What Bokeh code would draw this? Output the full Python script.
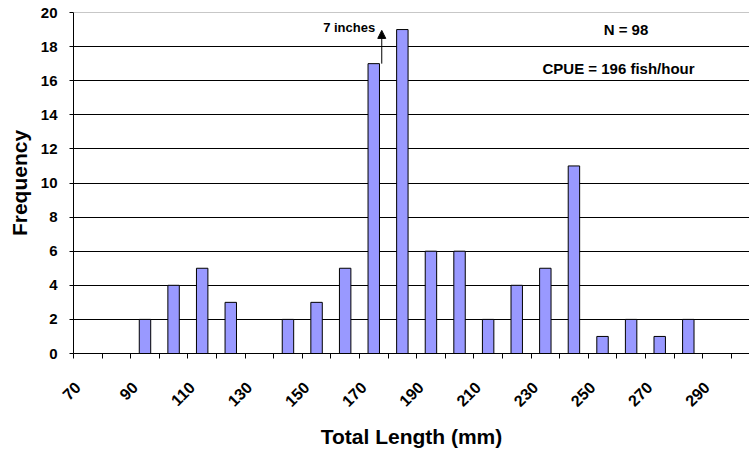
import math
from bokeh.plotting import figure
from bokeh.models import FixedTicker, Range1d, Span, Arrow, NormalHead, Label, ColumnDataSource
from bokeh.embed import file_html
from bokeh.resources import INLINE

# ---- data ----
lengths = [70, 80, 90, 100, 110, 120, 130, 140, 150, 160, 170, 180,
           190, 200, 210, 220, 230, 240, 250, 260, 270, 280, 290, 300]
counts = [0, 0, 2, 4, 5, 3, 0, 2, 3, 5, 17, 19,
          6, 6, 2, 4, 5, 11, 1, 2, 1, 2, 0, 0]
tick_labels = [70, 90, 110, 130, 150, 170, 190, 210, 230, 250, 270, 290]
y_ticks = [0, 2, 4, 6, 8, 10, 12, 14, 16, 18, 20]
seven_inches_mm = 177.8
n_text = "N = 98"
cpue_text = "CPUE = 196 fish/hour"

FONT = "Liberation Sans"
BIN = 10
LABEL_NUDGE = 1.4   # rotated labels end just left of the bin centre

xs = [l + BIN / 2 for l, c in zip(lengths, counts) if c > 0]
tops = [c for c in counts if c > 0]
src = ColumnDataSource(dict(x=xs, top=tops))

p = figure(width=749, height=452, output_backend="svg", toolbar_location=None,
           x_range=Range1d(70, 306.4), y_range=Range1d(0, 20),
           min_border_left=73, min_border_right=0, min_border_top=12,
           min_border_bottom=99)
p.outline_line_color = None
p.background_fill_color = "white"

p.vbar(x="x", top="top", width=BIN * 0.4, source=src,
       fill_color="#9999FF", line_color="black", line_width=1)

# x axis
xa = p.xaxis[0]
label_pos = [t + LABEL_NUDGE for t in tick_labels]
xa.ticker = FixedTicker(ticks=label_pos, minor_ticks=lengths)
xa.major_label_overrides = {pos: str(t) for pos, t in zip(label_pos, tick_labels)}
xa.major_tick_out = 0
xa.major_tick_in = 0
xa.minor_tick_out = 5
xa.minor_tick_in = 0
xa.minor_tick_line_color = "black"
xa.axis_line_color = "black"
xa.major_label_orientation = math.pi / 4
xa.major_label_standoff = 26
xa.major_label_text_font = FONT
xa.major_label_text_font_style = "bold"
xa.major_label_text_font_size = "16px"
xa.major_label_text_color = "black"
xa.axis_label = "Total Length (mm)"
xa.axis_label_text_font = FONT
xa.axis_label_text_font_style = "bold"
xa.axis_label_text_font_size = "21px"
xa.axis_label_text_color = "black"
xa.axis_label_standoff = 10

# y axis
ya = p.yaxis[0]
ya.ticker = FixedTicker(ticks=y_ticks, minor_ticks=[])
ya.major_tick_out = 4
ya.major_tick_in = 0
ya.major_tick_line_color = "black"
ya.minor_tick_line_color = None
ya.axis_line_color = "black"
ya.major_label_standoff = 12
ya.major_label_text_font = FONT
ya.major_label_text_font_style = "bold"
ya.major_label_text_font_size = "15px"
ya.major_label_text_color = "black"
ya.axis_label = "Frequency"
ya.axis_label_text_font = FONT
ya.axis_label_text_font_style = "bold"
ya.axis_label_text_font_size = "21px"
ya.axis_label_text_color = "black"
ya.axis_label_standoff = 7

p.xgrid.visible = False
p.ygrid.ticker = FixedTicker(ticks=y_ticks[1:-1])
p.ygrid.grid_line_color = "black"
p.ygrid.grid_line_width = 1

p.add_layout(Span(location=20, dimension="width", line_color="#909090", line_width=1))

# annotations
p.add_layout(Arrow(end=NormalHead(size=8, fill_color="black", line_color="black"),
                   x_start=seven_inches_mm, y_start=17.0,
                   x_end=seven_inches_mm, y_end=18.95,
                   line_color="black", line_width=1))
p.add_layout(Label(x=seven_inches_mm - 2.3, y=19.1, text="7 inches",
                   text_align="right", text_baseline="middle",
                   text_font=FONT, text_font_style="bold",
                   text_font_size="13px", text_color="black"))
p.add_layout(Label(x=263.2, y=19.0, text=n_text,
                   text_align="center", text_baseline="middle",
                   text_font=FONT, text_font_style="bold",
                   text_font_size="15px", text_color="black"))
p.add_layout(Label(x=260.6, y=16.7, text=cpue_text,
                   text_align="center", text_baseline="middle",
                   text_font=FONT, text_font_style="bold",
                   text_font_size="15px", text_color="black"))

open("out.html", "w").write(file_html(p, INLINE))
